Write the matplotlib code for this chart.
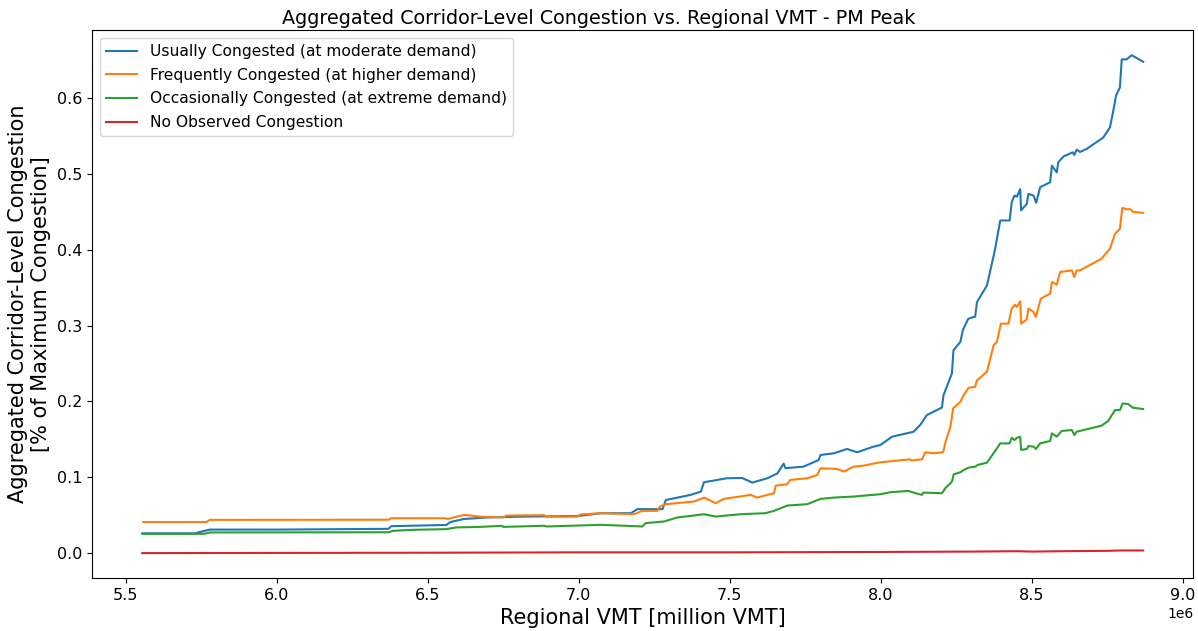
import numpy as np
import matplotlib
matplotlib.use("Agg")
import matplotlib.pyplot as plt

# regional VMT in millions
usually_x = [5.555, 5.728, 5.778, 6.000, 6.370, 6.379, 6.550, 6.561, 6.575, 6.620,
             6.700, 6.800, 7.000, 7.073, 7.172, 7.194, 7.277, 7.288, 7.370, 7.404,
             7.414, 7.490, 7.541, 7.574, 7.624, 7.657, 7.678, 7.684, 7.744, 7.794,
             7.800, 7.844, 7.888, 7.921, 7.976, 7.998, 8.037, 8.108, 8.130, 8.152,
             8.202, 8.207, 8.235, 8.240, 8.263, 8.271, 8.289, 8.312, 8.318, 8.351,
             8.378, 8.386, 8.395, 8.426, 8.433, 8.442, 8.450, 8.461, 8.464, 8.483,
             8.488, 8.505, 8.514, 8.527, 8.560, 8.566, 8.582, 8.587, 8.604, 8.635,
             8.640, 8.648, 8.659, 8.681, 8.736, 8.758, 8.769, 8.778, 8.791, 8.797,
             8.813, 8.830, 8.868]
usually_y = [0.026, 0.026, 0.031, 0.031, 0.032, 0.0355, 0.037, 0.037, 0.041, 0.045,
             0.047, 0.048, 0.049, 0.0526, 0.0526, 0.058, 0.058, 0.070, 0.0768, 0.0811,
             0.0934, 0.0987, 0.099, 0.093, 0.0987, 0.105, 0.118, 0.112, 0.114, 0.1228,
             0.1294, 0.1316, 0.1373, 0.133, 0.1404, 0.1425, 0.1535, 0.160, 0.169, 0.182,
             0.192, 0.208, 0.237, 0.2675, 0.2785, 0.294, 0.309, 0.312, 0.331, 0.353,
             0.401, 0.419, 0.4386, 0.4386, 0.4627, 0.4715, 0.470, 0.480, 0.452, 0.4605,
             0.4737, 0.4715, 0.462, 0.4825, 0.489, 0.511, 0.502, 0.5154, 0.523, 0.5285,
             0.525, 0.532, 0.529, 0.533, 0.548, 0.5614, 0.583, 0.603, 0.614, 0.651,
             0.651, 0.6566, 0.648]

frequently_x = [5.558, 5.768, 5.778, 6.370, 6.379, 6.556, 6.566, 6.620, 6.676, 6.750,
                6.760, 6.885, 6.895, 6.996, 7.005, 7.073, 7.183, 7.210, 7.260, 7.268,
                7.288, 7.381, 7.415, 7.453, 7.480, 7.569, 7.590, 7.617, 7.646, 7.652,
                7.690, 7.700, 7.756, 7.789, 7.800, 7.855, 7.877, 7.910, 7.943, 7.998,
                8.042, 8.097, 8.100, 8.136, 8.147, 8.175, 8.206, 8.214, 8.230, 8.239,
                8.263, 8.274, 8.290, 8.312, 8.318, 8.351, 8.373, 8.384, 8.397, 8.422,
                8.433, 8.444, 8.450, 8.461, 8.464, 8.483, 8.488, 8.505, 8.513, 8.529,
                8.560, 8.566, 8.582, 8.593, 8.632, 8.640, 8.648, 8.659, 8.730, 8.758,
                8.775, 8.791, 8.799, 8.813, 8.826, 8.834, 8.868]
frequently_y = [0.041, 0.041, 0.0438, 0.044, 0.046, 0.046, 0.045, 0.0504, 0.048, 0.047,
                0.0495, 0.050, 0.048, 0.048, 0.051, 0.0526, 0.0513, 0.0557, 0.0557, 0.0614,
                0.0645, 0.068, 0.0732, 0.0658, 0.0715, 0.0768, 0.0732, 0.076, 0.0789, 0.089,
                0.0908, 0.0965, 0.0987, 0.103, 0.1118, 0.111, 0.1075, 0.114, 0.1154, 0.1197,
                0.1215, 0.1237, 0.122, 0.1237, 0.133, 0.1316, 0.133, 0.147, 0.1667, 0.1908,
                0.1996, 0.2083, 0.218, 0.2193, 0.228, 0.239, 0.2741, 0.2785, 0.3026, 0.3026,
                0.3224, 0.3276, 0.3246, 0.332, 0.3026, 0.3083, 0.3224, 0.318, 0.3114, 0.3355,
                0.3421, 0.3575, 0.354, 0.3706, 0.3728, 0.364, 0.3728, 0.3728, 0.3882, 0.4013,
                0.421, 0.4276, 0.4553, 0.4535, 0.4535, 0.450, 0.4487]

occasionally_x = [5.555, 5.760, 5.778, 6.370, 6.385, 6.450, 6.560, 6.594, 6.676, 6.745,
                  6.750, 6.885, 6.895, 7.000, 7.073, 7.210, 7.221, 7.282, 7.326, 7.381,
                  7.414, 7.453, 7.536, 7.617, 7.646, 7.690, 7.756, 7.800, 7.844, 7.910,
                  7.998, 8.031, 8.091, 8.114, 8.136, 8.140, 8.202, 8.213, 8.235, 8.241,
                  8.263, 8.274, 8.290, 8.312, 8.320, 8.351, 8.378, 8.395, 8.426, 8.433,
                  8.442, 8.450, 8.461, 8.464, 8.483, 8.488, 8.505, 8.513, 8.527, 8.560,
                  8.566, 8.582, 8.598, 8.632, 8.640, 8.648, 8.730, 8.752, 8.775, 8.791,
                  8.800, 8.818, 8.834, 8.868]
occasionally_y = [0.0254, 0.0254, 0.0272, 0.0275, 0.0294, 0.0307, 0.0316, 0.0338, 0.0346, 0.036,
                  0.0346, 0.036, 0.0351, 0.0364, 0.0373, 0.0351, 0.0395, 0.0417, 0.047, 0.0496,
                  0.0513, 0.0482, 0.0513, 0.0526, 0.0557, 0.0627, 0.0645, 0.0715, 0.0732, 0.0746,
                  0.0776, 0.0803, 0.082, 0.079, 0.0768, 0.0798, 0.079, 0.0855, 0.0943, 0.1039,
                  0.1066, 0.1096, 0.1127, 0.114, 0.1162, 0.1193, 0.1346, 0.1447, 0.1447, 0.1522,
                  0.1491, 0.152, 0.1535, 0.136, 0.1373, 0.1412, 0.1404, 0.1373, 0.1447, 0.1478,
                  0.1579, 0.1535, 0.161, 0.1623, 0.1557, 0.1601, 0.168, 0.1741, 0.1886, 0.1886,
                  0.1974, 0.1965, 0.1917, 0.190]

none_x = [5.555, 6.5, 7.0, 7.5, 8.0, 8.3, 8.45, 8.5, 8.6, 8.75, 8.8, 8.868]
none_y = [0.0, 0.0005, 0.001, 0.001, 0.0015, 0.002, 0.0025, 0.002, 0.0025, 0.003, 0.0035, 0.0035]

labels = ["Usually Congested (at moderate demand)",
          "Frequently Congested (at higher demand)",
          "Occasionally Congested (at extreme demand)",
          "No Observed Congestion"]

fig, ax = plt.subplots(figsize=(11.98, 6.31), dpi=100)
fig.subplots_adjust(left=0.077, right=0.996, bottom=0.084, top=0.952)

series = [(usually_x, usually_y), (frequently_x, frequently_y),
          (occasionally_x, occasionally_y), (none_x, none_y)]
for (xs, ys), lab in zip(series, labels):
    # x in the file is millions, the axis itself is raw VMT (hence the 1e6 offset)
    ax.plot(np.array(xs) * 1e6, ys, lw=1.5, label=lab)

# title sits centred on the figure, not the axes
fig.suptitle("Aggregated Corridor-Level Congestion vs. Regional VMT - PM Peak",
             fontsize=13.8, x=0.5, y=0.986)
ax.set_xlabel("Regional VMT [million VMT]", fontsize=15)
ax.set_ylabel("Aggregated Corridor-Level Congestion\n[% of Maximum Congestion]", fontsize=15)
ax.tick_params(labelsize=11.5)
ax.legend(loc="upper left", fontsize=11.2, labelspacing=0.55)

plt.savefig("out.png", dpi=100)
plt.close()
